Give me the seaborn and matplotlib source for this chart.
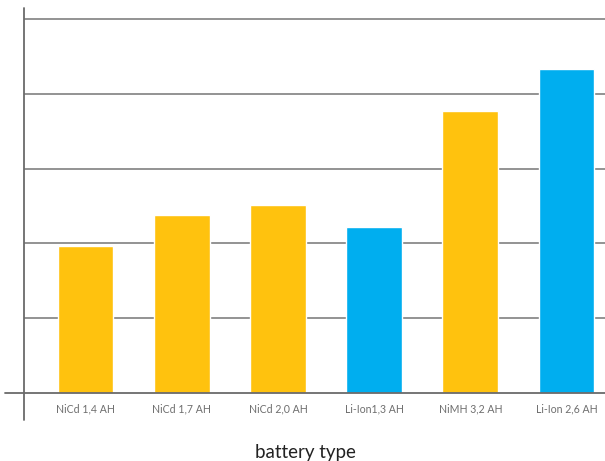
import matplotlib
matplotlib.use("Agg")
import matplotlib.pyplot as plt
import seaborn as sns

# values (y tick labels are cropped away, so units = gridline steps)
batteries = ["NiCd 1,4 AH", "NiCd 1,7 AH", "NiCd 2,0 AH", "Li-Ion1,3 AH", "NiMH 3,2 AH", "Li-Ion 2,6 AH"]
values = [1.96, 2.38, 2.51, 2.22, 3.77, 4.33]
groups = ["Ni", "Ni", "Ni", "Li", "Ni", "Li"]
grid_ticks = [1, 2, 3, 4, 5]

palette = {"Ni": "#FFC20E", "Li": "#00AEEF"}


def main():
    sns.set_style("white")
    plt.rcParams["font.family"] = ["Lato", "DejaVu Sans"]

    fig = plt.figure(figsize=(6.05, 4.61), dpi=100)
    ax = fig.add_axes([24 / 605, 68 / 461, 581 / 605, 385 / 461])

    sns.barplot(x=batteries, y=values, hue=groups, palette=palette,
                dodge=False, width=0.58, legend=False, saturation=1, ax=ax)

    ax.set_xlim(-0.64, 5.40)
    ax.set_ylim(0, 5.147)

    # gridlines behind bars
    ax.set_axisbelow(True)
    ax.set_yticks(grid_ticks)
    ax.set_yticklabels([])
    ax.yaxis.grid(True, color="#8a8a8a", linewidth=1.3)
    ax.tick_params(axis="y", length=0)
    ax.tick_params(axis="x", length=0, pad=7.5, labelsize=7.6, labelcolor="#6e6e6e")

    for s in ax.spines.values():
        s.set_visible(False)

    # axis lines, extended past the origin like the original
    ax.axhline(0, xmin=-0.032, xmax=1, color="#6a6a6a", linewidth=1.3, clip_on=False, zorder=3)
    ax.axvline(ax.get_xlim()[0], ymin=-0.07, ymax=1, color="#6a6a6a", linewidth=1.3,
               clip_on=False, zorder=3)

    ax.set_xlabel("battery type", fontsize=13.5, color="#222222")
    ax.xaxis.set_label_coords(0.485, -0.132)
    ax.set_ylabel("")

    fig.savefig("out.png", dpi=100)


if __name__ == "__main__":
    main()
